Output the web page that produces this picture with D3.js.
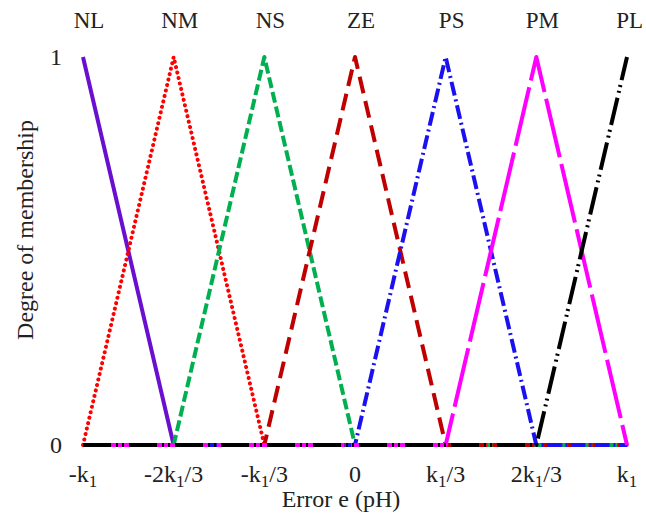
<!DOCTYPE html>
<html>
<head>
<meta charset="utf-8">
<script src="https://cdn.jsdelivr.net/npm/d3@7"></script>
<style>
  body { margin: 0; background: #fff; }
  text { font-family: "Liberation Serif", "Times New Roman", serif; fill: #222; }
</style>
</head>
<body>
<svg id="chart" width="646" height="519"></svg>
<script>
(function () {
  const width = 646;
  const height = 519;

  // positions along the error axis, in units of k1
  const xValues = [-1, -2 / 3, -1 / 3, 0, 1 / 3, 2 / 3, 1];
  const xTickLabels = ['-k1', '-2k1/3', '-k1/3', '0', 'k1/3', '2k1/3', 'k1'];
  const yTickValues = [0, 1];

  const categories = ['NL', 'NM', 'NS', 'ZE', 'PS', 'PM', 'PL'];
  // membership degree of each set at the positions above
  const valuesNL = [1, 0, 0, 0, 0, 0, 0];
  const valuesNM = [0, 1, 0, 0, 0, 0, 0];
  const valuesNS = [0, 0, 1, 0, 0, 0, 0];
  const valuesZE = [0, 0, 0, 1, 0, 0, 0];
  const valuesPS = [0, 0, 0, 0, 1, 0, 0];
  const valuesPM = [0, 0, 0, 0, 0, 1, 0];
  const valuesPL = [0, 0, 0, 0, 0, 0, 1];
  const seriesValues = [valuesNL, valuesNM, valuesNS, valuesZE, valuesPS, valuesPM, valuesPL];

  const styles = {
    NL: { color: '#6a0fd0', dash: null, cap: 'butt' },
    NM: { color: '#ff0000', dash: '0.1,5.5', cap: 'round' },
    NS: { color: '#00b050', dash: '11,4', cap: 'butt' },
    ZE: { color: '#c00000', dash: '17,8', cap: 'butt' },
    PS: { color: '#1a10f0', dash: '14,4,2,4', cap: 'butt' },
    PM: { color: '#ff00ff', dash: '60,7', cap: 'butt' },
    PL: { color: '#000000', dash: '28,5,2,4,2,5', cap: 'butt' }
  };

  const padding = { top: 57, left: 83, right: 19, bottom: 74 };

  const xScale = d3.scaleLinear().domain([-1, 1]).range([padding.left, width - padding.right]);
  const yScale = d3.scaleLinear().domain([0, 1]).range([height - padding.bottom, padding.top]);

  const svg = d3.select('#chart');

  // x axis baseline
  svg.append('line')
    .attr('x1', xScale(-1))
    .attr('x2', xScale(1))
    .attr('y1', yScale(0))
    .attr('y2', yScale(0))
    .attr('stroke', '#000')
    .attr('stroke-width', 4);

  const line = d3.line()
    .x(d => xScale(d.x))
    .y(d => yScale(d.y));

  // draw series, zero parts included, so their dashes land on the baseline
  categories.forEach((name, i) => {
    const st = styles[name];
    const pts = xValues.map((x, j) => ({ x: x, y: seriesValues[i][j] }));
    svg.append('path')
      .datum(pts)
      .attr('d', line)
      .attr('fill', 'none')
      .attr('stroke', st.color)
      .attr('stroke-width', 4)
      .attr('stroke-linecap', st.cap)
      .attr('stroke-linejoin', 'round')
      .attr('stroke-dasharray', st.dash);
  });

  // set names above the peaks
  svg.selectAll('.setname')
    .data(categories)
    .enter()
    .append('text')
    .attr('class', 'setname')
    .attr('x', (d, i) => xScale(xValues[i]) + 6)
    .attr('y', 28)
    .attr('text-anchor', 'middle')
    .attr('font-size', 23)
    .text(d => d)
    .each(function () {
      // keep the last name inside the frame
      const w = this.getComputedTextLength();
      const x = +this.getAttribute('x');
      if (x + w / 2 > width - 3) this.setAttribute('x', width - 3 - w / 2);
    });

  // x tick labels with k subscript
  const xt = svg.selectAll('.xtick')
    .data(xTickLabels)
    .enter()
    .append('text')
    .attr('class', 'xtick')
    .attr('x', (d, i) => xScale(xValues[i]))
    .attr('y', 482)
    .attr('text-anchor', 'middle')
    .attr('font-size', 24);

  xt.each(function (d) {
    const t = d3.select(this);
    const parts = d.split('k1');
    if (parts.length === 1) {
      t.text(d);
      return;
    }
    t.append('tspan').text(parts[0] + 'k');
    t.append('tspan').attr('font-size', 17).attr('dy', 5).text('1');
    if (parts[1]) t.append('tspan').attr('dy', -5).text(parts[1]);
  });

  // y tick labels
  svg.selectAll('.ytick')
    .data(yTickValues)
    .enter()
    .append('text')
    .attr('class', 'ytick')
    .attr('x', 62)
    .attr('y', d => yScale(d) + 8)
    .attr('text-anchor', 'end')
    .attr('font-size', 24)
    .text(d => d);

  // axis titles
  svg.append('text')
    .attr('x', 341)
    .attr('y', 507)
    .attr('text-anchor', 'middle')
    .attr('font-size', 24)
    .text('Error e (pH)');

  svg.append('text')
    .attr('transform', 'translate(33, 230) rotate(-90)')
    .attr('text-anchor', 'middle')
    .attr('font-size', 24)
    .text('Degree of membership');
})();
</script>
</body>
</html>
